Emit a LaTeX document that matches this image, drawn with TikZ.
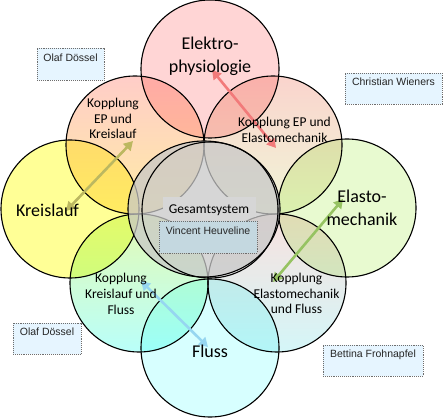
\documentclass[tikz,border=0pt]{standalone}
\usepackage{fontspec}
\setmainfont{Carlito}
\newfontfamily\boxfont{Liberation Sans}
\usetikzlibrary{arrows.meta,shapes.geometric}
\definecolor{cEP}{RGB}{255,213,213}
\definecolor{cKL}{RGB}{255,255,150}
\definecolor{cEL}{RGB}{232,250,208}
\definecolor{cFL}{RGB}{215,255,255}
\definecolor{cEPKLt}{RGB}{255,205,200}
\definecolor{cEPKLb}{RGB}{255,236,165}
\definecolor{cEPELt}{RGB}{250,212,205}
\definecolor{cEPELb}{RGB}{240,246,215}
\definecolor{cKFt}{RGB}{228,250,180}
\definecolor{cKFb}{RGB}{185,255,250}
\definecolor{cEFt}{RGB}{248,225,222}
\definecolor{cEFb}{RGB}{212,246,248}
\definecolor{cGray}{RGB}{200,200,200}
\definecolor{cGSbg}{RGB}{214,214,214}
\definecolor{cBox}{RGB}{230,245,255}
\definecolor{cVH}{RGB}{196,216,224}
\definecolor{cDot}{RGB}{110,110,110}
\definecolor{aRed}{RGB}{242,122,122}
\definecolor{aOlive}{RGB}{188,184,96}
\definecolor{aGreen}{RGB}{150,195,98}
\definecolor{aCyan}{RGB}{150,214,240}
\begin{document}
\begin{tikzpicture}[x=1pt,y=-1pt,
  ring/.style={circle, draw=black, line width=1.1pt, minimum size=138pt, inner sep=0pt, blend mode=multiply},
  bigl/.style={font=\fontsize{18}{23}\selectfont, align=center, inner sep=0pt},
  midl/.style={font=\fontsize{13.5}{15.8}\selectfont, align=center, inner sep=0pt},
  pbox/.style={draw=cDot, densely dotted, line width=0.9pt, fill=cBox, inner sep=0pt},
  ptext/.style={font=\boxfont\fontsize{10.5}{12}\selectfont, text=black!85, inner sep=0pt, anchor=base},
  link/.style={line width=2.6pt, {Triangle[length=9pt,width=10pt]}-{Triangle[length=9pt,width=10pt]}},
]
\useasboundingbox (0,0) rectangle (443,419);
% coupling rings
\node[ring, shade, top color=cEPKLt, bottom color=cEPKLb] (epkl) at (135,145) {};
\node[ring, shade, top color=cEPELt, bottom color=cEPELb] (epel) at (273,145) {};
\node[ring, shade, top color=cKFt, bottom color=cKFb] (klfl) at (139,283) {};
\node[ring, shade, top color=cEFt, bottom color=cEFb] (elfl) at (277,283) {};
% main rings
\node[ring, fill=cEP] (ep) at (210,69) {};
\node[ring, fill=cKL] (kl) at (70,209) {};
\node[ring, fill=cEL] (el) at (347,208) {};
\node[ring, fill=cFL] (fl) at (210,348) {};
% centre
\node[ellipse, draw=black, line width=1.1pt, fill=cGray, fill opacity=0.75, minimum width=152pt, minimum height=136pt, inner sep=0pt] (gsouter) at (204,209) {};
\node[circle, draw=black, line width=1.1pt, minimum size=136pt, inner sep=0pt] (gs) at (210,210) {};
% arrows
\coordinate (o1) at (133,141); \coordinate (o2) at (66,211);
\coordinate (r1) at (212,70);  \coordinate (r2) at (276,148);
\coordinate (g1) at (273,282); \coordinate (g2) at (343,199);
\coordinate (c1) at (141,281); \coordinate (c2) at (208,347);
\draw[link, draw=aOlive] (o1) -- (o2);
\draw[link, draw=aRed] (r1) -- (r2);
\draw[link, draw=aGreen] (g1) -- (g2);
\draw[link, draw=aCyan] (c1) -- (c2);
% labels
\node[bigl] (tep) at (210,56) {Elektro-\\physiologie};
\node[bigl, anchor=base] (tkl) at (47.5,216) {Kreislauf};
\node[bigl] (tel) at (362,207.5) {Elasto-\\mechanik};
\node[bigl, anchor=base] (tfl) at (210,357) {Fluss};
\node[midl] (tepkl) at (113,118.5) {Kopplung\\EP und\\Kreislauf};
\node[midl] (tepel) at (284.5,130) {Kopplung EP und\\Elastomechanik};
\node[midl] (tklfl) at (121,294) {Kopplung\\Kreislauf und\\Fluss};
\node[midl] (telfl) at (296.5,293.5) {Kopplung\\Elastomechanik\\und Fluss};
% Gesamtsystem
\node[fill=cGSbg, minimum width=93pt, minimum height=20pt, inner sep=0pt] (gsbox) at (209.5,207) {};
\node[font=\fontsize{13.5}{16}\selectfont, inner sep=0pt, anchor=base] (tgs) at (209,213) {Gesamtsystem};
% person boxes
\node[pbox, minimum width=67pt, minimum height=32pt] (b1) at (70.5,64) {};
\node[ptext] at ([yshift=-14pt]b1.north) {Olaf Dössel};
\node[pbox, minimum width=97pt, minimum height=31pt] (b2) at (393.5,88.5) {};
\node[ptext] at ([yshift=-12.5pt]b2.north) {Christian Wieners};
\node[pbox, minimum width=68pt, minimum height=31pt] (b3) at (47,338.5) {};
\node[ptext] at ([yshift=-13pt]b3.north) {Olaf Dössel};
\node[pbox, minimum width=100pt, minimum height=31pt] (b4) at (373,360.5) {};
\node[ptext] at ([yshift=-13pt]b4.north) {Bettina Frohnapfel};
\node[pbox, fill=cVH, minimum width=98pt, minimum height=32pt] (b5) at (208,237) {};
\node[ptext] at ([yshift=-14pt]b5.north) {Vincent Heuveline};
\end{tikzpicture}
\end{document}
